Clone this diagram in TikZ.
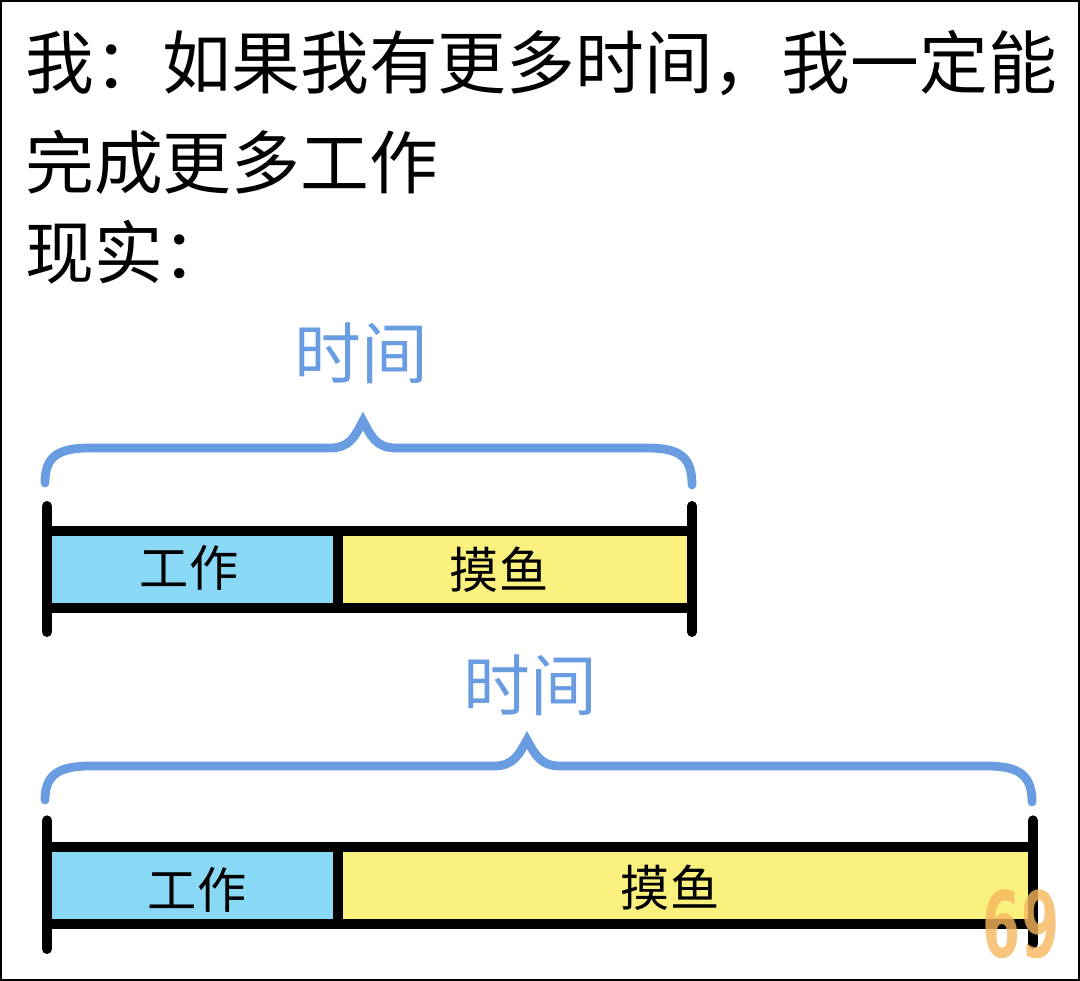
\documentclass[tikz,border=0pt]{standalone}
\usepackage{fontspec}
\setmainfont{Noto Sans CJK SC}
\newfontfamily\markfont{DejaVu Sans}
\usetikzlibrary{positioning,calc}

\definecolor{timeblue}{RGB}{106,156,226}
\definecolor{workblue}{RGB}{137,216,246}
\definecolor{slackyellow}{RGB}{250,240,125}
\definecolor{markorange}{RGB}{245,182,92}

\begin{document}
\begin{tikzpicture}[x=0.03cm, y=-0.03cm,
      title/.style={anchor=west, inner sep=0pt, font=\fontsize{58.7}{58.7}\selectfont},
      timelbl/.style={inner sep=0pt, text=timeblue, font=\fontsize{57}{57}\selectfont},
      seg/.style={draw=black, line width=8.5pt, inner sep=0pt, outer sep=0pt, minimum height=2.31cm},
      segtext/.style={inner sep=0pt, font=\fontsize{42}{42}\selectfont},
      tick/.style={line width=8.5pt, line cap=round},
      brace/.style={draw=timeblue, line width=7.5pt, line cap=round}
    ]
    \useasboundingbox (0,0) rectangle (1080,981);
    \draw[line width=1.7pt] (1,1) rectangle (1079,980);

    \node[title] (line1) at (25,63) {我：如果我有更多时间，我一定能};
    \node[title] (line2) at (25,162) {完成更多工作};
    \node[title] (line3) at (25,252) {现实：};

    % first bar
    \node[timelbl] (time1) at (361,353) {时间};
    \draw[brace] (45,483) .. controls (45,457) and (57,448) .. (90,448) -- (330,448)
      .. controls (350,448) and (355,436) .. (363,421) .. controls (371,436) and (376,448) .. (396,448)
      -- (647,448) .. controls (680,448) and (692,457) .. (692,485);
    \node[seg, fill=workblue, minimum width=8.73cm] (work1) at (192.5,569.5) {};
    \node[seg, fill=slackyellow, minimum width=10.62cm] (slack1) at (515,569.5) {};
    \node[segtext] (worktxt1) at (189,568) {工作};
    \node[segtext] (slacktxt1) at (499,570) {摸鱼};
    \draw[tick] ([yshift=0.75cm]work1.north west) -- ([yshift=-0.72cm]work1.south west);
    \draw[tick] ([yshift=0.75cm]slack1.north east) -- ([yshift=-0.72cm]slack1.south east);

    % second bar
    \node[timelbl] (time2) at (530,685) {时间};
    \draw[brace] (45,800) .. controls (45,776) and (57,766) .. (90,766) -- (494,766)
      .. controls (514,766) and (519,754) .. (527,740) .. controls (535,754) and (540,766) .. (560,766)
      -- (987,766) .. controls (1020,766) and (1032,776) .. (1032,802);
    \node[seg, fill=workblue, minimum width=8.73cm] (work2) at (192.5,885.5) {};
    \node[seg, fill=slackyellow, minimum width=20.85cm] (slack2) at (685.5,885.5) {};
    \node[segtext] (worktxt2) at (197,890) {工作};
    \node[segtext] (slacktxt2) at (670,888) {摸鱼};
    \draw[tick] ([yshift=0.8cm]work2.north west) -- ([yshift=-0.75cm]work2.south west);
    \draw[tick] ([yshift=0.8cm]slack2.north east) -- ([yshift=-0.6cm]slack2.south east);

    \node[inner sep=0pt, text=markorange, text opacity=0.8, xscale=0.6,
      font=\markfont\bfseries\fontsize{78}{78}\selectfont] (mark) at (1021,924) {69};
  \end{tikzpicture}
\end{document}
